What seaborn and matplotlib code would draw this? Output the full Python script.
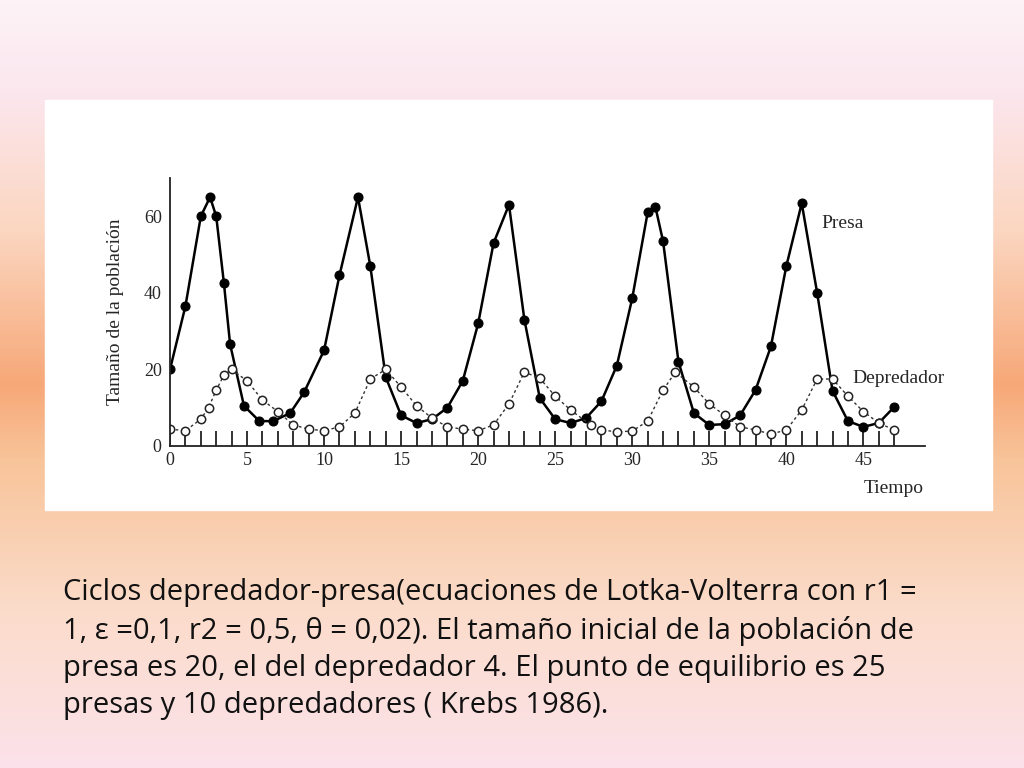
import numpy as np
import matplotlib
matplotlib.use("Agg")
import matplotlib.pyplot as plt
import seaborn as sns
from matplotlib.colors import LinearSegmentedColormap

# prey (Presa) readings
prey_t = [0, 1, 2, 2.6, 3, 3.5, 3.9, 4.8, 5.8, 6.7, 7.8, 8.7, 10, 11, 12.2, 13, 14, 15, 16, 17,
          18, 19, 20, 21, 22, 23, 24, 25, 26, 27, 28, 29, 30, 31, 31.5, 32, 33, 34, 35, 36,
          37, 38, 39, 40, 41, 42, 43, 44, 45, 46, 47]
prey_n = [20, 36.5, 60, 65, 60, 42.5, 26.6, 10.5, 6.5, 6.5, 8.6, 14, 25, 44.6, 65, 47, 18, 8, 6, 7,
          10, 17, 32, 53, 63, 33, 12.5, 7, 6, 7.3, 11.7, 21, 38.6, 61, 62.5, 53.5, 22, 8.6, 5.5, 5.7,
          8, 14.6, 26, 47, 63.4, 40, 14.4, 6.5, 5, 6, 10.2]
# predator (Depredador) readings
pred_t = [0, 1, 2, 2.5, 3, 3.5, 4, 5, 6, 7, 8, 9, 10, 11, 12, 13, 14, 15, 16, 17, 18, 19, 20,
          21, 22, 23, 24, 25, 26, 27.3, 28, 29, 30, 31, 32, 32.8, 34, 35, 36, 37, 38, 39, 40,
          41, 42, 43, 44, 45, 46, 47]
pred_n = [4.4, 4, 7, 10, 14.6, 18.5, 20, 17, 12, 9, 5.5, 4.4, 4, 5, 8.6, 17.5, 20, 15.4, 10.5, 7.3,
          5, 4.4, 4, 5.5, 11, 19.3, 17.7, 13, 9.4, 5.5, 4.2, 3.7, 3.9, 6.5, 14.6, 19.3, 15.4, 11,
          8, 5, 4.2, 3.1, 4.2, 9.4, 17.5, 17.5, 13, 9, 6, 4.2]
stem_t = list(range(0, 48))
y_ticks = [0, 20, 40, 60]
x_ticks = [0, 5, 10, 15, 20, 25, 30, 35, 40, 45]

caption = ("Ciclos depredador-presa(ecuaciones de Lotka-Volterra con r1 =\n"
           "1, ε =0,1, r2 = 0,5, θ = 0,02). El tamaño inicial de la población de\n"
           "presa es 20, el del depredador 4. El punto de equilibrio es 25\n"
           "presas y 10 depredadores ( Krebs 1986).")

sns.set_theme(style="white")
fig = plt.figure(figsize=(10.24, 7.68), dpi=100)

# slide background gradient
bg = fig.add_axes([0, 0, 1, 1])
cmap = LinearSegmentedColormap.from_list("slide", [
    (0.0, "#fdf3f6"), (0.12, "#fbe6ee"), (0.3, "#fbd6c0"), (0.5, "#f7a878"),
    (0.6, "#f8c49a"), (0.8, "#fbdccb"), (1.0, "#fbe2ea")])
bg.imshow(np.linspace(0, 1, 256).reshape(-1, 1), aspect="auto", cmap=cmap, extent=[0, 1, 0, 1])
bg.add_patch(plt.Rectangle((45 / 1024, 1 - 510 / 768), 947 / 1024, 410 / 768, color="white"))
bg.set_xlim(0, 1); bg.set_ylim(0, 1); bg.axis("off")

serif = "Liberation Serif"
ax = fig.add_axes([170 / 1024, 1 - 446 / 768, 755 / 1024, 268 / 768])
ax.patch.set_alpha(0)
ax.vlines(stem_t, 0, 4, color="#222222", lw=1.3)
sns.lineplot(x=prey_t, y=prey_n, ax=ax, color="black", lw=1.8, marker="o",
             markersize=6.5, markerfacecolor="black", markeredgecolor="black")
sns.lineplot(x=pred_t, y=pred_n, ax=ax, color="#333333", lw=1.0, linestyle=(0, (2, 2)),
             marker="o", markersize=6, markerfacecolor="white", markeredgecolor="#222222",
             markeredgewidth=1.1)
ax.set_xlim(0, 49)
ax.set_ylim(0, 70)
for s in ["top", "right"]:
    ax.spines[s].set_visible(False)
for s in ["left", "bottom"]:
    ax.spines[s].set_color("#222222"); ax.spines[s].set_linewidth(1.3)
ax.set_xticks(x_ticks)
ax.set_yticks(y_ticks)
ax.set_yticks([10, 30, 50], minor=True)
ax.tick_params(axis="y", direction="in", length=6, labelsize=13, pad=6, which="both")
ax.tick_params(axis="x", length=0, labelsize=13, pad=4)
for lab in ax.get_xticklabels() + ax.get_yticklabels():
    lab.set_fontfamily(serif)
ax.set_ylabel("Tamaño de la población", fontfamily=serif, fontsize=14, labelpad=14)
ax.text(47, -9, "Tiempo", fontfamily=serif, fontsize=14, ha="center", va="top")
ax.text(42.3, 57, "Presa", fontfamily=serif, fontsize=14)
ax.text(44.3, 16.5, "Depredador", fontfamily=serif, fontsize=14)

fig.text(63 / 1024, 1 - 578 / 768, caption, fontsize=21, fontfamily="Open Sans",
         va="top", ha="left", linespacing=1.38, color="#111111")

fig.savefig("out.png", dpi=100)
